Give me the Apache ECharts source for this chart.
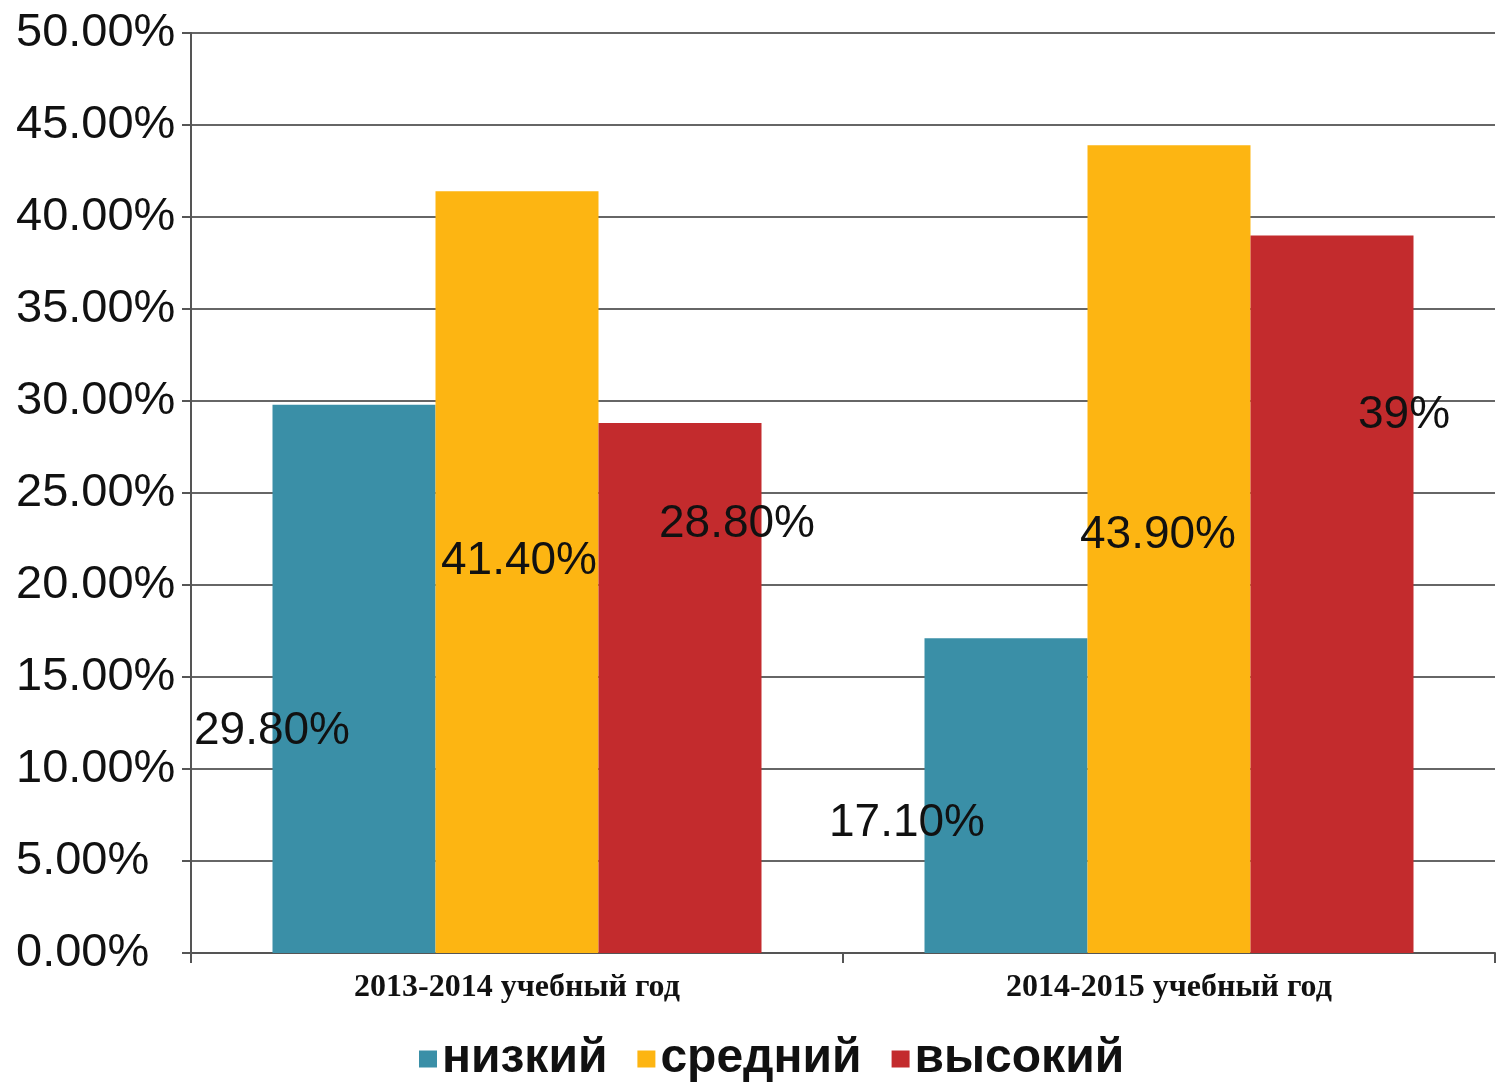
<!DOCTYPE html>
<html>
<head>
<meta charset="utf-8">
<script src="https://cdn.jsdelivr.net/npm/echarts@6/dist/echarts.min.js"></script>
<style>
html,body{margin:0;padding:0;background:#fff;}
#chart{width:1501px;height:1082px;}
</style>
</head>
<body>
<div id="chart"></div>
<script>
const categories = ['2013-2014 учебный год', '2014-2015 учебный год'];
const seriesNames = ['низкий', 'средний', 'высокий'];
const lowValues = [29.8, 17.1];
const midValues = [41.4, 43.9];
const highValues = [28.8, 39];
const lowLabels = ['29.80%', '17.10%'];
const midLabels = ['41.40%', '43.90%'];
const highLabels = ['28.80%', '39%'];
const yTicks = [0, 5, 10, 15, 20, 25, 30, 35, 40, 45, 50];

const colors = ['#3A8FA7', '#FDB512', '#C32B2D'];
const labelOffsets = [
  [[-82, 52], [-99, 28]],
  [[2, -11], [-11, -14]],
  [[57, -164], [72, -179]]
];

const values = [lowValues, midValues, highValues];
const texts = [lowLabels, midLabels, highLabels];

const chart = echarts.init(document.getElementById('chart'));
const series = seriesNames.map((name, s) => ({
  name: name,
  type: 'bar',
  barGap: '0%',
  barCategoryGap: '25%',
  itemStyle: { color: colors[s] },
  data: values[s].map((v, i) => ({
    value: v,
    label: {
      show: true,
      position: 'inside',
      offset: labelOffsets[s][i],
      formatter: () => texts[s][i],
      color: '#111',
      fontFamily: 'Liberation Sans, Arial, sans-serif',
      fontSize: 46,
      textBorderWidth: 0
    }
  }))
}));

chart.setOption({
  animation: false,
  backgroundColor: '#fff',
  grid: { left: 191, right: 6, top: 33, bottom: 129, containLabel: false },
  legend: {
    data: seriesNames,
    left: 414,
    top: 1030,
    icon: 'rect',
    itemWidth: 18,
    itemHeight: 17,
    itemGap: 30,
    textStyle: {
      fontFamily: 'Liberation Sans, Arial, sans-serif',
      fontWeight: 'bold',
      fontSize: 48,
      color: '#111'
    }
  },
  xAxis: {
    type: 'category',
    data: categories,
    axisLine: { show: true, lineStyle: { color: '#555', width: 2 } },
    axisTick: { show: true, length: 10, lineStyle: { color: '#555', width: 2 } },
    axisLabel: {
      margin: 19,
      fontFamily: 'Liberation Serif, Times New Roman, serif',
      fontWeight: 'bold',
      fontSize: 32,
      color: '#111'
    }
  },
  yAxis: {
    type: 'value',
    min: yTicks[0],
    max: yTicks[yTicks.length - 1],
    interval: 5,
    axisLine: { show: true, lineStyle: { color: '#555', width: 2 } },
    axisTick: { show: true, length: 9, lineStyle: { color: '#555', width: 2 } },
    splitLine: { show: true, lineStyle: { color: '#666', width: 2 } },
    axisLabel: {
      align: 'left',
      margin: 175,
      formatter: v => v.toFixed(2) + '%',
      fontFamily: 'Liberation Sans, Arial, sans-serif',
      fontSize: 47,
      color: '#111'
    }
  },
  series: series
});
</script>
</body>
</html>
